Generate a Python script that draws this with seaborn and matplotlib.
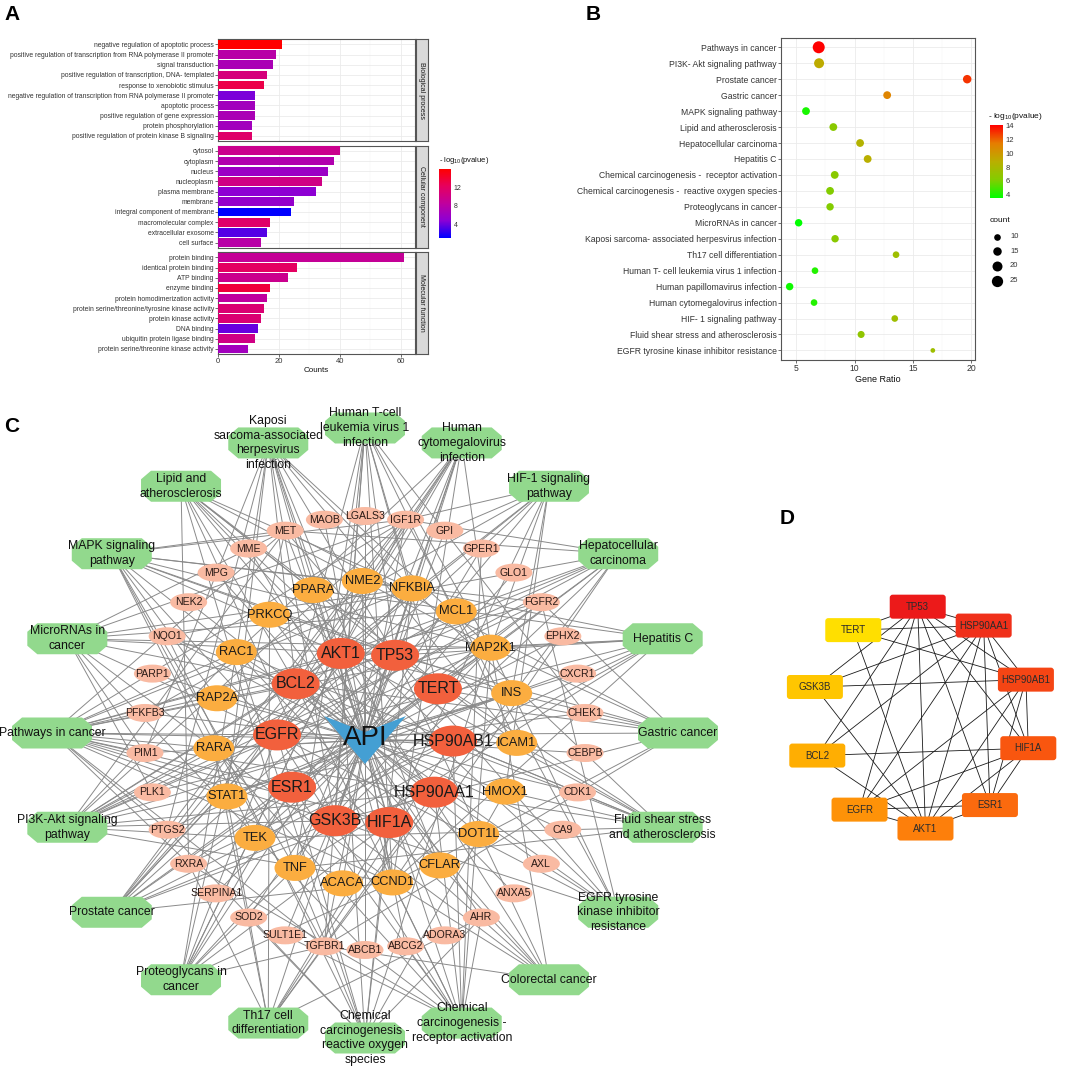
import numpy as np
import pandas as pd
import matplotlib.pyplot as plt
import seaborn as sns
from matplotlib.colors import LinearSegmentedColormap, Normalize
from matplotlib.cm import ScalarMappable
from matplotlib.patches import Ellipse, Polygon, FancyBboxPatch
from matplotlib.collections import LineCollection

# ---------------- panel A: GO enrichment ----------------
bp_terms = ['negative regulation of apoptotic process',
            'positive regulation of transcription from RNA polymerase II promoter',
            'signal transduction',
            'positive regulation of transcription, DNA- templated',
            'response to xenobiotic stimulus',
            'negative regulation of transcription from RNA polymerase II promoter',
            'apoptotic process',
            'positive regulation of gene expression',
            'protein phosphorylation',
            'positive regulation of protein kinase B signaling']
bp_counts = [21, 19, 18, 16, 15, 12, 12, 12, 11, 11]
bp_logp = [15.8, 8.0, 7.0, 10.5, 13.0, 4.5, 6.5, 7.0, 6.5, 11.5]

cc_terms = ['cytosol', 'cytoplasm', 'nucleus', 'nucleoplasm', 'plasma membrane',
            'membrane', 'integral component of membrane', 'macromolecular complex',
            'extracellular exosome', 'cell surface']
cc_counts = [40, 38, 36, 34, 32, 25, 24, 17, 16, 14]
cc_logp = [9.5, 7.5, 6.0, 10.0, 5.0, 5.5, 1.3, 11.5, 3.5, 8.0]

mf_terms = ['protein binding', 'identical protein binding', 'ATP binding', 'enzyme binding',
            'protein homodimerization activity',
            'protein serine/threonine/tyrosine kinase activity',
            'protein kinase activity', 'DNA binding', 'ubiquitin protein ligase binding',
            'protein serine/threonine kinase activity']
mf_counts = [61, 26, 23, 17, 16, 15, 14, 13, 12, 10]
mf_logp = [9.0, 12.0, 9.5, 13.5, 8.5, 11.0, 11.0, 4.0, 10.0, 6.5]

# ---------------- panel B: KEGG enrichment ----------------
kegg_terms = ['Pathways in cancer', 'PI3K- Akt signaling pathway', 'Prostate cancer',
              'Gastric cancer', 'MAPK signaling pathway', 'Lipid and atherosclerosis',
              'Hepatocellular carcinoma', 'Hepatitis C',
              'Chemical carcinogenesis -  receptor activation',
              'Chemical carcinogenesis -  reactive oxygen species',
              'Proteoglycans in cancer', 'MicroRNAs in cancer',
              'Kaposi sarcoma- associated herpesvirus infection', 'Th17 cell differentiation',
              'Human T- cell leukemia virus 1 infection', 'Human papillomavirus infection',
              'Human cytomegalovirus infection', 'HIF- 1 signaling pathway',
              'Fluid shear stress and atherosclerosis',
              'EGFR tyrosine kinase inhibitor resistance']
kegg_ratio = [6.92, 6.95, 19.63, 12.78, 5.83, 8.17, 10.46, 11.11, 8.29, 7.89,
              7.89, 5.2, 8.32, 13.54, 6.6, 4.43, 6.52, 13.43, 10.55, 16.69]
kegg_logp = [14.1, 9.0, 13.0, 11.0, 4.0, 6.5, 8.5, 8.8, 6.5, 6.2,
             6.2, 3.5, 6.5, 7.5, 4.2, 3.8, 4.2, 7.5, 6.8, 7.5]
kegg_count = [28, 20, 15, 13, 13, 13, 13, 13, 13, 13,
              12, 12, 12, 10, 10, 12, 10, 10, 11, 6]

# ---------------- panel C: compound-target-pathway network ----------------
hub_genes = ['TP53', 'TERT', 'HSP90AB1', 'HSP90AA1', 'HIF1A', 'GSK3B', 'ESR1', 'EGFR',
             'BCL2', 'AKT1']
mid_genes = ['NME2', 'NFKBIA', 'MCL1', 'MAP2K1', 'INS', 'ICAM1', 'HMOX1', 'DOT1L', 'CFLAR',
             'CCND1', 'ACACA', 'TNF', 'TEK', 'STAT1', 'RARA', 'RAP2A', 'RAC1', 'PRKCQ', 'PPARA']
outer_genes = ['LGALS3', 'IGF1R', 'GPI', 'GPER1', 'GLO1', 'FGFR2', 'EPHX2', 'CXCR1', 'CHEK1',
               'CEBPB', 'CDK1', 'CA9', 'AXL', 'ANXA5', 'AHR', 'ADORA3', 'ABCG2', 'ABCB1',
               'TGFBR1', 'SULT1E1', 'SOD2', 'SERPINA1', 'RXRA', 'PTGS2', 'PLK1', 'PIM1',
               'PFKFB3', 'PARP1', 'NQO1', 'NEK2', 'MPG', 'MME', 'MET', 'MAOB']
pathway_labels = ['Human T-cell\nleukemia virus 1\ninfection',
                  'Human\ncytomegalovirus\ninfection',
                  'HIF-1 signaling\npathway',
                  'Hepatocellular\ncarcinoma',
                  'Hepatitis C',
                  'Gastric cancer',
                  'Fluid shear stress\nand atherosclerosis',
                  'EGFR tyrosine\nkinase inhibitor\nresistance',
                  'Colorectal cancer',
                  'Chemical\ncarcinogenesis -\nreceptor activation',
                  'Chemical\ncarcinogenesis -\nreactive oxygen\nspecies',
                  'Th17 cell\ndifferentiation',
                  'Proteoglycans in\ncancer',
                  'Prostate cancer',
                  'PI3K-Akt signaling\npathway',
                  'Pathways in cancer',
                  'MicroRNAs in\ncancer',
                  'MAPK signaling\npathway',
                  'Lipid and\natherosclerosis',
                  'Kaposi\nsarcoma-associated\nherpesvirus\ninfection']
pathway_targets = [
    ['AKT1', 'BCL2', 'GSK3B', 'TERT', 'TP53', 'CCND1', 'NFKBIA', 'ICAM1', 'MAP2K1', 'TNF', 'TGFBR1', 'CHEK1'],
    ['AKT1', 'BCL2', 'EGFR', 'GSK3B', 'TP53', 'CCND1', 'MAP2K1', 'NFKBIA', 'RAC1', 'STAT1', 'TNF', 'PTGS2'],
    ['AKT1', 'BCL2', 'EGFR', 'HIF1A', 'INS', 'MAP2K1', 'HMOX1', 'IGF1R', 'TEK', 'PFKFB3', 'GPI'],
    ['AKT1', 'BCL2', 'EGFR', 'GSK3B', 'TERT', 'TP53', 'CCND1', 'MAP2K1', 'NQO1', 'TGFBR1', 'MET', 'IGF1R'],
    ['AKT1', 'EGFR', 'GSK3B', 'TP53', 'NFKBIA', 'MAP2K1', 'STAT1', 'TNF', 'CCND1', 'PPARA', 'RXRA'],
    ['AKT1', 'BCL2', 'EGFR', 'GSK3B', 'TERT', 'TP53', 'CCND1', 'MAP2K1', 'FGFR2', 'MET', 'TGFBR1'],
    ['AKT1', 'TP53', 'HSP90AA1', 'HSP90AB1', 'ICAM1', 'NFKBIA', 'RAC1', 'TNF', 'HMOX1', 'NQO1', 'TEK'],
    ['AKT1', 'BCL2', 'EGFR', 'GSK3B', 'MAP2K1', 'FGFR2', 'IGF1R', 'MET', 'AXL'],
    ['AKT1', 'BCL2', 'EGFR', 'GSK3B', 'TP53', 'CCND1', 'MAP2K1', 'RAC1', 'TGFBR1'],
    ['AKT1', 'BCL2', 'EGFR', 'ESR1', 'HSP90AA1', 'HSP90AB1', 'CCND1', 'MAP2K1', 'RARA', 'AHR',
     'RXRA', 'GPER1', 'SULT1E1', 'ABCB1', 'ABCG2'],
    ['AKT1', 'EGFR', 'HIF1A', 'MAP2K1', 'NFKBIA', 'RAC1', 'TNF', 'AHR', 'NQO1', 'HMOX1', 'SOD2', 'PTGS2'],
    ['HIF1A', 'HSP90AA1', 'HSP90AB1', 'NFKBIA', 'PRKCQ', 'RARA', 'STAT1', 'AHR', 'RXRA', 'TGFBR1'],
    ['AKT1', 'EGFR', 'ESR1', 'HIF1A', 'TP53', 'CCND1', 'MAP2K1', 'RAC1', 'TNF', 'IGF1R', 'MET', 'TGFBR1'],
    ['AKT1', 'BCL2', 'EGFR', 'GSK3B', 'HSP90AA1', 'HSP90AB1', 'TP53', 'CCND1', 'MAP2K1', 'NFKBIA',
     'FGFR2', 'IGF1R'],
    ['AKT1', 'BCL2', 'EGFR', 'GSK3B', 'HSP90AA1', 'HSP90AB1', 'TP53', 'CCND1', 'INS', 'MAP2K1',
     'MCL1', 'RAC1', 'TEK', 'FGFR2', 'IGF1R', 'MET'],
    ['AKT1', 'BCL2', 'EGFR', 'ESR1', 'GSK3B', 'HIF1A', 'HSP90AA1', 'HSP90AB1', 'TP53', 'CCND1',
     'MAP2K1', 'NFKBIA', 'RAC1', 'RARA', 'STAT1', 'FGFR2', 'IGF1R', 'MET', 'PTGS2', 'RXRA',
     'TGFBR1', 'PIM1'],
    ['BCL2', 'EGFR', 'TP53', 'CCND1', 'MCL1', 'MAP2K1', 'NFKBIA', 'PIM1', 'PLK1', 'ABCB1', 'IGF1R', 'MET'],
    ['AKT1', 'EGFR', 'TP53', 'MAP2K1', 'NFKBIA', 'RAC1', 'RAP2A', 'TNF', 'FGFR2', 'IGF1R', 'MET',
     'TGFBR1', 'INS', 'TEK'],
    ['AKT1', 'BCL2', 'GSK3B', 'HSP90AA1', 'HSP90AB1', 'TP53', 'ICAM1', 'MAP2K1', 'NFKBIA', 'PPARA',
     'RXRA', 'TNF'],
    ['AKT1', 'BCL2', 'GSK3B', 'HIF1A', 'TP53', 'CCND1', 'CFLAR', 'ICAM1', 'MAP2K1', 'NFKBIA', 'RAC1',
     'STAT1', 'PIM1', 'PTGS2'],
]

# ---------------- panel D: hub genes PPI ----------------
core_genes = ['TP53', 'HSP90AA1', 'HSP90AB1', 'HIF1A', 'ESR1', 'AKT1', 'EGFR', 'BCL2', 'GSK3B', 'TERT']
core_colors = ['#EC1A1A', '#F0301A', '#F54514', '#F9560F', '#FB6A0E', '#FD7F0B', '#FE9208',
               '#FFAE02', '#FFC600', '#FFDF00']
core_edges = [('TP53', 'TERT'), ('TP53', 'HSP90AA1'), ('TP53', 'HSP90AB1'), ('TP53', 'HIF1A'),
              ('TP53', 'ESR1'), ('TP53', 'AKT1'), ('TP53', 'EGFR'), ('TP53', 'BCL2'), ('TP53', 'GSK3B'),
              ('HSP90AA1', 'TERT'), ('HSP90AA1', 'HSP90AB1'), ('HSP90AA1', 'HIF1A'), ('HSP90AA1', 'ESR1'),
              ('HSP90AA1', 'AKT1'), ('HSP90AA1', 'EGFR'), ('HSP90AA1', 'BCL2'), ('HSP90AA1', 'GSK3B'),
              ('HSP90AB1', 'TERT'), ('HSP90AB1', 'GSK3B'), ('HSP90AB1', 'HIF1A'), ('HSP90AB1', 'ESR1'),
              ('HSP90AB1', 'AKT1'), ('HSP90AB1', 'EGFR'), ('HIF1A', 'ESR1'), ('HIF1A', 'AKT1'),
              ('HIF1A', 'EGFR'), ('HIF1A', 'BCL2'), ('ESR1', 'AKT1'), ('ESR1', 'EGFR'), ('AKT1', 'EGFR'),
              ('AKT1', 'BCL2'), ('AKT1', 'GSK3B'), ('AKT1', 'TERT')]

# ---------------- figure set-up ----------------
sns.set_theme(style='white')
plt.rcParams['font.family'] = ['Liberation Sans', 'DejaVu Sans']
plt.rcParams['mathtext.default'] = 'regular'

W, H = 1065, 1067
fig = plt.figure(figsize=(W / 100, H / 100), dpi=100)


def box(x0, y0, x1, y1):
    """pixel box (top-left origin) -> figure rect"""
    return [x0 / W, 1 - y1 / H, (x1 - x0) / W, (y1 - y0) / H]


TXT = '#333333'
BORDER = '#555555'

# ---------------- panel A ----------------
cmap_go = LinearSegmentedColormap.from_list('go', ['#0000FF', '#8C00D4', '#C0009E', '#E6005E', '#FF0000'])
norm_go = Normalize(1.3, 15.8)
facets = [('Biological process', bp_terms, bp_counts, bp_logp, 39.3, 141.0),
          ('Cellular component', cc_terms, cc_counts, cc_logp, 145.7, 247.7),
          ('Molecular function', mf_terms, mf_counts, mf_logp, 252.3, 354.0)]

for i, (name, terms, counts, logp, top, bottom) in enumerate(facets):
    ax = fig.add_axes(box(218, top, 415, bottom))
    df = pd.DataFrame({'term': terms, 'count': counts, 'logp': logp})
    colors = [cmap_go(norm_go(v)) for v in logp]
    sns.barplot(data=df, x='count', y='term', hue='term', palette=colors, legend=False,
                width=0.85, saturation=1, errorbar=None, linewidth=0, ax=ax, zorder=3)
    ax.set_xlim(0, 64.6)
    ax.set_ylim(9.5, -0.5)
    ax.set_xticks([0, 20, 40, 60])
    ax.set_xticks([10, 30, 50], minor=True)
    ax.set_axisbelow(True)
    ax.grid(which='major', color='#EBEBEB', lw=0.6)
    ax.grid(which='minor', axis='x', color='#F3F3F3', lw=0.35)
    ax.set_ylabel('')
    ax.tick_params(axis='y', labelsize=4.85, colors=TXT, length=2, width=0.5, pad=1, left=True)
    if i < 2:
        ax.tick_params(axis='x', which='both', bottom=False, labelbottom=False)
        ax.set_xlabel('')
    else:
        ax.tick_params(axis='x', which='major', labelsize=5.5, colors=TXT, length=2, width=0.5,
                       pad=1, bottom=True)
        ax.tick_params(axis='x', which='minor', bottom=False)
        ax.set_xlabel('Counts', fontsize=5.8, color='#111111', labelpad=1.5)
    for sp in ax.spines.values():
        sp.set_color(BORDER)
        sp.set_linewidth(0.8)
    sax = fig.add_axes(box(416, top, 428, bottom))
    sax.set_facecolor('#D9D9D9')
    sax.set_xticks([])
    sax.set_yticks([])
    for sp in sax.spines.values():
        sp.set_color(BORDER)
        sp.set_linewidth(0.8)
    sax.text(0.5, 0.5, name, rotation=270, ha='center', va='center', fontsize=5,
             color='#1A1A1A', transform=sax.transAxes)

cax_a = fig.add_axes(box(439.3, 169, 450.7, 237.7))
cb_a = fig.colorbar(ScalarMappable(norm=norm_go, cmap=cmap_go), cax=cax_a, ticks=[4, 8, 12])
cb_a.outline.set_visible(False)
cax_a.tick_params(labelsize=5, colors='white', labelcolor=TXT, length=2.5, width=0.6,
                  direction='in', pad=2)
fig.text(439 / W, 1 - 161 / H, '- log$_{10}$(pvalue)', fontsize=5.5, color='#111111',
         ha='left', va='center')

# ---------------- panel B ----------------
cmap_kegg = LinearSegmentedColormap.from_list('kegg', ['#00FF00', '#82CD00', '#B9AF00', '#E67D00', '#FF0000'])
norm_kegg = Normalize(3.48, 14.1)
axB = fig.add_axes(box(781, 37.7, 975, 360))
dfB = pd.DataFrame({'term': kegg_terms, 'ratio': kegg_ratio, 'logp': kegg_logp, 'count': kegg_count})
sns.scatterplot(data=dfB, x='ratio', y='term', hue='logp', palette=cmap_kegg, hue_norm=(3.48, 14.1),
                size='count', sizes=(11.4, 74.6), size_norm=(6, 28), legend=False, linewidth=0,
                ax=axB, zorder=3)
axB.set_xlim(3.69, 20.3)
axB.set_ylim(19.6, -0.6)
axB.set_xticks([5, 10, 15, 20])
axB.set_xticks([7.5, 12.5, 17.5], minor=True)
axB.set_axisbelow(True)
axB.grid(which='major', color='#EBEBEB', lw=0.6)
axB.grid(which='minor', axis='x', color='#F3F3F3', lw=0.35)
axB.tick_params(axis='y', labelsize=6.2, colors=TXT, length=2, width=0.5, pad=1, left=True)
axB.tick_params(axis='x', which='major', labelsize=6.2, colors=TXT, length=2, width=0.5, pad=1,
                bottom=True)
axB.tick_params(axis='x', which='minor', bottom=False)
axB.set_ylabel('')
axB.set_xlabel('Gene Ratio', fontsize=6.5, color='#111111', labelpad=1.5)
for sp in axB.spines.values():
    sp.set_color(BORDER)
    sp.set_linewidth(0.8)

cax_b = fig.add_axes(box(990, 125, 1003, 198.3))
cb_b = fig.colorbar(ScalarMappable(norm=norm_kegg, cmap=cmap_kegg), cax=cax_b, ticks=[4, 6, 8, 10, 12, 14])
cb_b.outline.set_visible(False)
cax_b.tick_params(labelsize=5.5, colors='white', labelcolor=TXT, length=2.5, width=0.6,
                  direction='in', pad=2)
fig.text(988 / W, 1 - 116 / H, '- log$_{10}$(pvalue)', fontsize=6, color='#111111',
         ha='left', va='center')

# ---------------- overlay axes for networks & legends ----------------
ov = fig.add_axes([0, 0, 1, 1])
ov.set_xlim(0, W)
ov.set_ylim(H, 0)
ov.axis('off')

# count legend for panel B
legend_counts = [10, 15, 20, 25]
ov.text(990, 221, 'count', fontsize=6, color='#111111', ha='left', va='center')
for k, c in enumerate(legend_counts):
    s = 11.4 + (c - 6) / (28 - 6) * (74.6 - 11.4)
    yk = 236.5 + 14.7 * k
    ov.scatter([996.7], [yk], s=s, color='black', linewidths=0)
    ov.text(1010, yk, str(c), fontsize=5.5, color=TXT, ha='left', va='center')


def ring(names, cx, cy, rx, ry, start):
    step = 360.0 / len(names)
    ang = np.deg2rad(start - step * np.arange(len(names)))
    return {n: (cx + rx * np.cos(a), cy - ry * np.sin(a)) for n, a in zip(names, ang)}


CX, CY = 365, 733
pos = {}
pos.update(ring(hub_genes, CX, 738, 88, 88, 70))
pos.update(ring(mid_genes, CX, CY, 152, 152, 91))
pos.update(ring(outer_genes, CX, CY, 221, 217, 90))
pos.update(ring(pathway_labels, CX, CY, 313, 305, 90))
api_pos = (CX, 740)

segs = [[api_pos, pos[g]] for g in hub_genes + mid_genes + outer_genes]
for lab, targets in zip(pathway_labels, pathway_targets):
    segs += [[pos[lab], pos[g]] for g in targets]
ov.add_collection(LineCollection(segs, colors='#8A8A8A', linewidths=0.7, zorder=1))

oct_unit = np.array([[-0.75, -1], [0.75, -1], [1, -0.45], [1, 0.45],
                     [0.75, 1], [-0.75, 1], [-1, 0.45], [-1, -0.45]])
for lab in pathway_labels:
    x, y = pos[lab]
    ov.add_patch(Polygon(oct_unit * [40, 15.5] + [x, y], closed=True, facecolor='#92D98D',
                         edgecolor='none', zorder=2))
    ov.text(x, y, lab, fontsize=8.8, ha='center', va='center', linespacing=1.3,
            color='#111111', zorder=4)

for g in outer_genes:
    x, y = pos[g]
    ov.add_patch(Ellipse((x, y), 37, 18, facecolor='#F9BAA2', edgecolor='none', zorder=2))
    ov.text(x, y, g, fontsize=7.6, ha='center', va='center', color='#2A1A16', zorder=4)
for g in mid_genes:
    x, y = pos[g]
    ov.add_patch(Ellipse((x, y), 41, 26, facecolor='#FBAD40', edgecolor='none', zorder=2))
    ov.text(x, y, g, fontsize=9.3, ha='center', va='center', color='#1A1A1A', zorder=4)
for g in hub_genes:
    x, y = pos[g]
    ov.add_patch(Ellipse((x, y), 48, 31, facecolor='#F2603D', edgecolor='none', zorder=2))
    ov.text(x, y, g, fontsize=11.5, ha='center', va='center', color='#1A1A1A', zorder=4)

vee = np.array([[-1, -1], [0, -0.33], [1, -1], [0, 1]])
ov.add_patch(Polygon(vee * [41, 24] + list(api_pos), closed=True, facecolor='#449FD3',
                     edgecolor='none', zorder=3))
ov.text(api_pos[0], api_pos[1] - 2, 'API', fontsize=20, ha='center', va='center',
        color='#111111', zorder=4)

# ---------------- panel D ----------------
dpos = ring(core_genes, 921.6, 717.6, 111, 111, 92)
dsegs = [[dpos[a], dpos[b]] for a, b in core_edges]
ov.add_collection(LineCollection(dsegs, colors='#1A1A1A', linewidths=0.6, zorder=1))
rw, rh, rr = 56, 24, 3
for g, c in zip(core_genes, core_colors):
    x, y = dpos[g]
    ov.add_patch(FancyBboxPatch((x - rw / 2 + rr, y - rh / 2 + rr), rw - 2 * rr, rh - 2 * rr,
                                boxstyle='round,pad=%g' % rr, facecolor=c, edgecolor='none',
                                zorder=2))
    ov.text(x, y, g, fontsize=7, ha='center', va='center', color='#2B2B2B', zorder=4)

# ---------------- panel letters ----------------
for letter, (lx, ly) in zip('ABCD', [(12, 14), (593, 15), (12, 427), (787, 518)]):
    ov.text(lx, ly, letter, fontsize=15, fontweight='bold', ha='center', va='center', color='black')

fig.savefig('out.png', dpi=100)
